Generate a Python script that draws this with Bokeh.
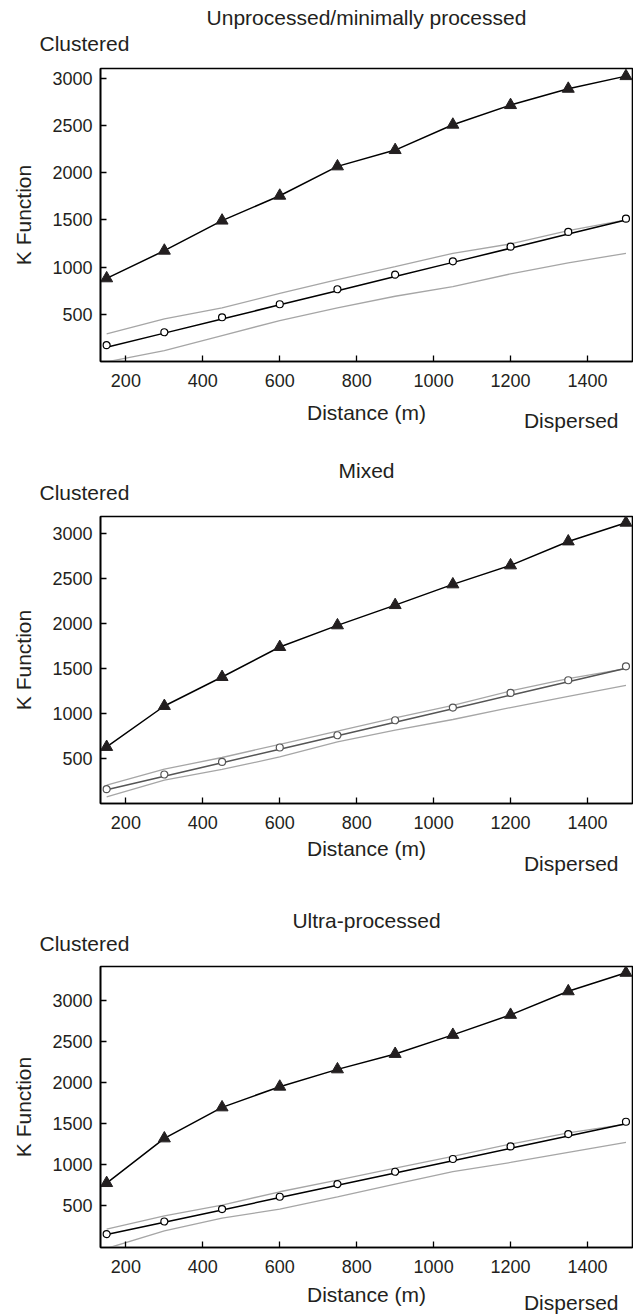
from bokeh.plotting import figure
from bokeh.layouts import column
from bokeh.models import Range1d, FixedTicker, Title
from bokeh.embed import file_html
from bokeh.resources import INLINE

# ---------------- data ----------------
distance = [150, 300, 450, 600, 750, 900, 1050, 1200, 1350, 1500]
csr_expected = [150, 300, 450, 600, 750, 900, 1050, 1200, 1350, 1500]
x_ticks = [200, 400, 600, 800, 1000, 1200, 1400]
y_ticks = [500, 1000, 1500, 2000, 2500, 3000]

unproc_observed = [881, 1174, 1493, 1757, 2068, 2241, 2510, 2718, 2891, 3025]
unproc_mean = [172, 309, 468, 606, 765, 920, 1061, 1217, 1373, 1514]
unproc_upper = [292, 451, 568, 722, 868, 1005, 1146, 1246, 1387, 1500]
unproc_lower = [-5, 115, 274, 433, 568, 691, 793, 928, 1044, 1146]

mixed_observed = [625, 1080, 1402, 1735, 1976, 2201, 2431, 2642, 2908, 3116]
mixed_mean = [156, 319, 459, 619, 755, 922, 1063, 1225, 1366, 1521]
mixed_upper = [200, 378, 508, 655, 800, 947, 1088, 1247, 1385, 1495]
mixed_lower = [70, 256, 375, 514, 681, 811, 930, 1063, 1188, 1310]

ultra_observed = [777, 1321, 1699, 1951, 2162, 2350, 2582, 2826, 3113, 3338]
ultra_mean = [155, 309, 460, 610, 765, 915, 1070, 1223, 1374, 1524]
ultra_upper = [216, 378, 508, 671, 813, 960, 1101, 1252, 1387, 1496]
ultra_lower = [-20, 195, 350, 460, 610, 765, 915, 1028, 1150, 1272]

panel_titles = ["Unprocessed/minimally processed", "Mixed", "Ultra-processed"]

FONT = "Liberation Sans"
TXT = "#231f20"


def txt_title(text, align, offset, standoff, valign="bottom"):
    return Title(text=text, align=align, offset=offset, standoff=standoff,
                 vertical_align=valign, text_font=FONT, text_font_size="21px",
                 text_font_style="normal", text_color=TXT)


def make_panel(title, observed, mean, upper, lower, y_range, height,
               border_top, border_bottom, xlabel_standoff, mid_color,
               clus_standoff, title_standoff, disp_standoff):
    p = figure(width=633, height=height, output_backend="svg",
               toolbar_location=None, title=None,
               x_range=Range1d(134, 1517), y_range=Range1d(*y_range),
               min_border_left=100, min_border_right=1,
               min_border_top=border_top, min_border_bottom=border_bottom)
    p.background_fill_color = "white"
    p.border_fill_color = "white"
    p.xgrid.visible = False
    p.ygrid.visible = False
    p.outline_line_color = "black"
    p.outline_line_width = 1.6
    p.outline_line_alpha = 1.0

    for ax in (p.xaxis[0], p.yaxis[0]):
        ax.axis_line_color = "black"
        ax.axis_line_width = 1.6
        ax.major_tick_in = 6
        ax.major_tick_out = 0
        ax.major_tick_line_width = 1.3
        ax.major_tick_line_color = "black"
        ax.minor_tick_line_color = None
        ax.major_label_text_font = FONT
        ax.major_label_text_font_size = "18px"
        ax.major_label_text_color = TXT
        ax.axis_label_text_font = FONT
        ax.axis_label_text_font_size = "21px"
        ax.axis_label_text_font_style = "normal"
        ax.axis_label_text_color = TXT

    p.xaxis.major_label_standoff = 12
    p.yaxis.major_label_standoff = 8
    p.xaxis.ticker = FixedTicker(ticks=x_ticks)
    p.yaxis.ticker = FixedTicker(ticks=y_ticks)
    p.xaxis.axis_label = "Distance (m)"
    p.yaxis.axis_label = "K Function"
    p.xaxis.axis_label_standoff = xlabel_standoff
    p.yaxis.axis_label_standoff = 14

    # envelopes
    p.line(distance, upper, line_color="#a6a6a6", line_width=1.3)
    p.line(distance, lower, line_color="#a6a6a6", line_width=1.3)
    # expected line + mean circles
    p.line(distance, csr_expected, line_color=mid_color, line_width=1.5)
    p.scatter(distance, mean, marker="circle", size=7, fill_color="white",
              line_color=mid_color, line_width=1.2)
    # observed
    p.line(distance, observed, line_color="black", line_width=1.5)
    p.scatter(distance, observed, marker="triangle", size=12,
              fill_color=TXT, line_color=TXT)

    p.add_layout(txt_title("Clustered", "left", -61, clus_standoff), "above")
    p.add_layout(txt_title(title, "center", 0, title_standoff), "above")
    p.add_layout(txt_title("Dispersed", "right", 14, disp_standoff, "top"), "below")
    return p


p1 = make_panel(panel_titles[0], unproc_observed, unproc_mean, unproc_upper,
                unproc_lower, (-1, 3106), 446, 68, 85, 11, "black", 28, -26, -36)
p2 = make_panel(panel_titles[1], mixed_observed, mixed_mean, mixed_upper,
                mixed_lower, (-3, 3185), 452, 70, 95, 5, "#555555", 26, -32, -22)
p3 = make_panel(panel_titles[2], ultra_observed, ultra_mean, ultra_upper,
                ultra_lower, (-8, 3415), 417, 68, 68, 7, "black", 24, -28, -36)

layout = column(p1, p2, p3, spacing=0)
open("out.html", "w").write(file_html(layout, INLINE))
